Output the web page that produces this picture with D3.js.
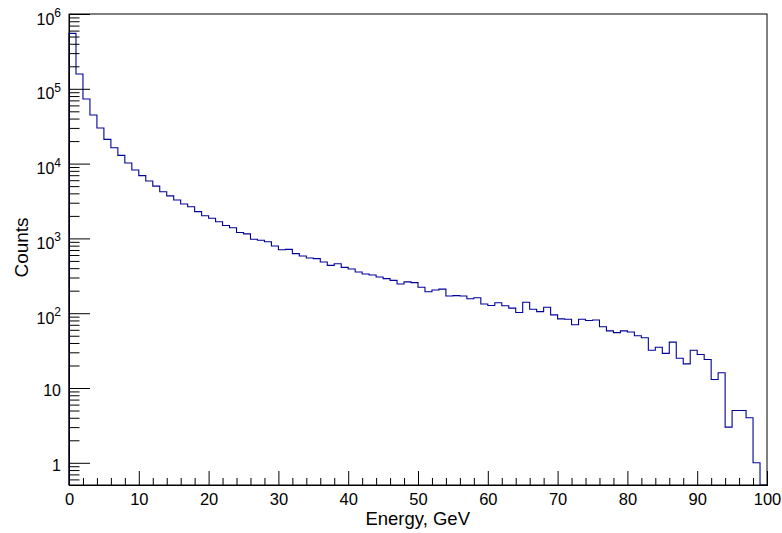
<!DOCTYPE html>
<html><head><meta charset="utf-8">
<script src="https://cdn.jsdelivr.net/npm/d3@7"></script>
<style>
body{margin:0;background:#fff;}
text{font-family:"Liberation Sans",Arial,Helvetica,sans-serif;}
</style></head>
<body><svg id="c" width="782" height="533"></svg>
<script>
// Histogram: 100 bins of 1 GeV from 0 to 100
const xRange = [0, 100];
const binWidth = 1;
const counts = [
550000, 158000, 73000, 44700, 29900, 21100, 16300, 12900, 10200, 8200,
6900, 5850, 5000, 4200, 3700, 3260, 2880, 2650, 2280, 2010,
1860, 1670, 1490, 1385, 1200, 1150, 973, 944, 904, 791,
706, 713, 625, 582, 547, 537, 483, 436, 459, 410,
390, 356, 334, 324, 305, 290, 275, 246, 262, 256,
222, 194, 204, 210, 170, 172, 170, 156, 161, 133,
127, 138, 126, 117, 102, 140, 113, 105, 120, 95,
84, 83, 70, 83, 80, 81, 66, 58, 55, 58,
56, 50, 47, 32, 35, 29, 41, 25, 21, 32,
28, 24, 13, 16, 3, 5, 5, 4, 1, 0];
const yRange = [0.505, 1e6];
const xMajorTicks = [0, 10, 20, 30, 40, 50, 60, 70, 80, 90, 100];
const xMinorTicks = [2,4,6,8,12,14,16,18,22,24,26,28,32,34,36,38,42,44,46,48,52,54,56,58,62,64,66,68,72,74,76,78,82,84,86,88,92,94,96,98];
const yMajorTicks = [1, 10, 100, 1000, 10000, 100000, 1000000];
const yTickLabels = [["1",""],["10",""],["10","2"],["10","3"],["10","4"],["10","5"],["10","6"]];
const xTitle = "Energy, GeV";
const yTitle = "Counts";

const L = 69, R = 767, T = 14, B = 485;
const svg = d3.select("#c");
const x = d3.scaleLinear().domain(xRange).range([L, R]);
const y = d3.scaleLog().domain(yRange).range([B, T]);

// minor y ticks 2..9 per decade
const yMinor = [];
for (let d = 0.1; d < 1e6; d *= 10) for (let m = 2; m <= 9; m++) { const v = Math.round(d*m*1000)/1000; if (v >= yRange[0] && v <= yRange[1]) yMinor.push(v); }

// histogram path
const pts = [[x(xRange[0]), B]];
counts.forEach((c, i) => {
  const v = Math.max(c, yRange[0]);
  const x0 = x(xRange[0] + i*binWidth), x1 = x(xRange[0] + (i+1)*binWidth);
  pts.push([x0, y(v)]); pts.push([x1, y(v)]);
});
pts.push([x(xRange[1]), B]);
svg.append("path").attr("d", d3.line()(pts)).attr("fill","none")
  .attr("stroke","#000099").attr("stroke-width",1.1);

// frame
svg.append("rect").attr("x",L).attr("y",T).attr("width",R-L).attr("height",B-T)
  .attr("fill","none").attr("stroke","#000").attr("stroke-width",1);

const FONT = "Liberation Sans, Arial, sans-serif";
// x axis
const gx = svg.append("g").attr("transform",`translate(0,${B})`);
gx.call(d3.axisBottom(x).tickValues(xMajorTicks).tickSize(-14).tickPadding(9).tickFormat(d3.format("d")));
const gx2 = svg.append("g").attr("transform",`translate(0,${B})`);
gx2.call(d3.axisBottom(x).tickValues(xMinorTicks).tickSize(-7).tickFormat(""));
[gx,gx2].forEach(g=>{g.select(".domain").attr("stroke","#000");g.selectAll("line").attr("stroke","#000");});
gx.selectAll("text").attr("font-size","16.5px").attr("fill","#000").attr("font-family",FONT)
  .attr("dy",null).attr("y",20);

// y axis
const gy = svg.append("g").attr("transform",`translate(${L},0)`);
gy.call(d3.axisLeft(y).tickValues(yMajorTicks).tickSize(-21).tickPadding(8).tickFormat(""));
const gy2 = svg.append("g").attr("transform",`translate(${L},0)`);
gy2.call(d3.axisLeft(y).tickValues(yMinor).tickSize(-10.5).tickFormat(""));
[gy,gy2].forEach(g=>{g.select(".domain").attr("stroke","#000");g.selectAll("line").attr("stroke","#000");});
gy.selectAll(".tick").each(function(d,i){
  const lab = yTickLabels[i];
  const t = d3.select(this).select("text").attr("x",-8).attr("dy",null).attr("text-anchor","end")
    .attr("font-size","16px").attr("fill","#000").attr("font-family",FONT);
  t.text(null);
  if (lab[1] === "") {
    t.attr("y",7.8).text(lab[0]);
  } else {
    t.attr("y",10);
    t.append("tspan").text(lab[0]);
    t.append("tspan").attr("dy",-7.5).attr("font-size","12px").text(lab[1]);
  }
});

// titles
svg.append("text").attr("x",470).attr("y",525).attr("text-anchor","end")
  .attr("font-size","18.5px").attr("font-family",FONT).text(xTitle);
svg.append("text").attr("transform",`translate(27.5,${(T+B)/2 - 2}) rotate(-90)`).attr("text-anchor","middle")
  .attr("font-size","19px").attr("font-family",FONT).text(yTitle);
</script></body></html>
